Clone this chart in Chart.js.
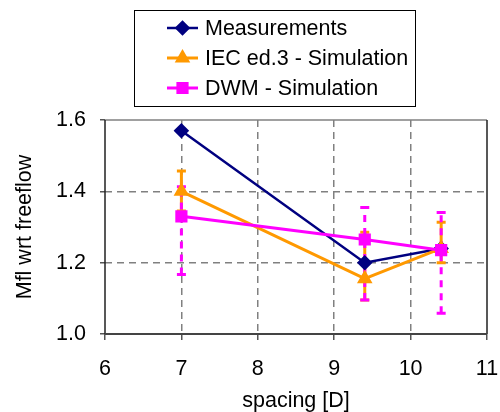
<!DOCTYPE html>
<html>
<head>
<meta charset="utf-8">
<script src="https://cdn.jsdelivr.net/npm/chart.js@4/dist/chart.umd.min.js"></script>
<style>
  body { margin: 0; background: #fff; }
</style>
</head>
<body>
<canvas id="chart" width="500" height="412"></canvas>
<script>
var spacing = [7, 9.4, 10.4];
var measured = [1.57, 1.20, 1.24];
var iec = [1.40, 1.155, 1.24];
var dwm = [1.33, 1.265, 1.235];
// error bar ends
var iecHigh = [1.457, 1.285, 1.313];
var iecLow = [1.345, 1.095, 1.20];
var dwmHigh = [1.413, 1.355, 1.341];
var dwmLow = [1.167, 1.095, 1.058];
var xTicks = [6, 7, 8, 9, 10, 11];
var yTicks = [1.0, 1.2, 1.4, 1.6];

var NAVY = '#000080';
var ORANGE = '#ff9900';
var MAGENTA = '#ff00ff';
var FONT = 'Liberation Sans, Arial, sans-serif';

function toPoints(xs, ys) {
    var pts = [];
    for (var i = 0; i < xs.length; i++) {
        pts.push({x: xs[i], y: ys[i]});
    }
    return pts;
}

// error bars, drawn under the markers
var errorBars = {
    id: 'errorBars',
    beforeDatasetsDraw: function(chart) {
        var ctx = chart.ctx;
        var xs = chart.scales.x, ys = chart.scales.y;
        var sets = [
            {lo: iecLow, hi: iecHigh, color: ORANGE, dash: []},
            {lo: dwmLow, hi: dwmHigh, color: MAGENTA, dash: [7, 6]}
        ];
        sets.forEach(function(s) {
            for (var i = 0; i < spacing.length; i++) {
                var px = xs.getPixelForValue(spacing[i]);
                var y1 = ys.getPixelForValue(s.lo[i]);
                var y2 = ys.getPixelForValue(s.hi[i]);
                ctx.save();
                ctx.strokeStyle = s.color;
                ctx.lineWidth = 3;
                ctx.setLineDash(s.dash);
                ctx.beginPath();
                ctx.moveTo(px, y1);
                ctx.lineTo(px, y2);
                ctx.stroke();
                ctx.setLineDash([]);
                ctx.beginPath();
                ctx.moveTo(px - 4.5, y1);
                ctx.lineTo(px + 4.5, y1);
                ctx.moveTo(px - 4.5, y2);
                ctx.lineTo(px + 4.5, y2);
                ctx.stroke();
                ctx.restore();
            }
        });
    }
};

// plot frame
var frame = {
    id: 'frame',
    beforeDatasetsDraw: function(chart) {
        var a = chart.chartArea, ctx = chart.ctx;
        ctx.save();
        ctx.lineWidth = 1.5;
        ctx.strokeStyle = '#808080';
        ctx.beginPath();
        ctx.moveTo(a.left, a.top);
        ctx.lineTo(a.right, a.top);
        ctx.stroke();
        ctx.strokeStyle = '#222';
        ctx.beginPath();
        ctx.moveTo(a.right, a.top);
        ctx.lineTo(a.right, a.bottom);
        ctx.moveTo(a.left, a.top);
        ctx.lineTo(a.left, a.bottom);
        ctx.stroke();
        ctx.lineWidth = 2;
        ctx.strokeStyle = '#444';
        ctx.beginPath();
        ctx.moveTo(a.left, a.bottom);
        ctx.lineTo(a.right, a.bottom);
        ctx.stroke();
        ctx.restore();
    }
};

// boxed legend like the original
var boxLegend = {
    id: 'boxLegend',
    afterDraw: function(chart) {
        var ctx = chart.ctx;
        ctx.save();
        ctx.fillStyle = '#fff';
        ctx.fillRect(134, 10, 281, 96);
        ctx.strokeStyle = '#000';
        ctx.lineWidth = 1;
        ctx.strokeRect(134.5, 10.5, 281, 96);
        var rows = [28, 58, 88];
        chart.data.datasets.forEach(function(ds, i) {
            var y = rows[i];
            ctx.strokeStyle = ds.borderColor;
            ctx.lineWidth = ds.borderWidth;
            ctx.beginPath();
            ctx.moveTo(167, y);
            ctx.lineTo(198, y);
            ctx.stroke();
            Chart.helpers.drawPoint(ctx, {
                pointStyle: ds.pointStyle,
                radius: ds.pointRadius,
                borderWidth: 1
            }, 182.5, y);
            ctx.fillStyle = ds.pointBackgroundColor;
            ctx.fill();
            ctx.fillStyle = '#000';
            ctx.font = '21.5px ' + FONT;
            ctx.textBaseline = 'middle';
            ctx.textAlign = 'left';
            ctx.fillText(ds.label, 205, y + 1);
        });
        ctx.restore();
    }
};

var gridColor = function(edges) {
    return function(c) {
        if (c.tick && edges.indexOf(c.tick.value) >= 0) return 'rgba(0,0,0,0)';
        return '#808080';
    };
};

new Chart(document.getElementById('chart'), {
    type: 'line',
    data: {
        datasets: [{
            label: 'Measurements',
            data: toPoints(spacing, measured),
            borderColor: NAVY,
            backgroundColor: NAVY,
            pointBackgroundColor: NAVY,
            pointBorderColor: NAVY,
            pointStyle: 'rectRot',
            pointRadius: 6,
            borderWidth: 2.5,
            order: 3
        }, {
            label: 'IEC ed.3 - Simulation',
            data: toPoints(spacing, iec),
            borderColor: ORANGE,
            backgroundColor: ORANGE,
            pointBackgroundColor: ORANGE,
            pointBorderColor: ORANGE,
            pointStyle: 'triangle',
            pointRadius: 6,
            borderWidth: 3,
            order: 2
        }, {
            label: 'DWM - Simulation',
            data: toPoints(spacing, dwm),
            borderColor: MAGENTA,
            backgroundColor: MAGENTA,
            pointBackgroundColor: MAGENTA,
            pointBorderColor: MAGENTA,
            pointStyle: 'rect',
            pointRadius: 6.5,
            borderWidth: 3,
            order: 1
        }]
    },
    options: {
        responsive: false,
        animation: false,
        devicePixelRatio: 1,
        layout: {padding: {left: 4, right: 13, top: 120, bottom: 0}},
        plugins: {
            legend: {display: false},
            tooltip: {enabled: false}
        },
        scales: {
            x: {
                type: 'linear',
                min: xTicks[0],
                max: xTicks[xTicks.length - 1],
                afterBuildTicks: function(s) {
                    s.ticks = xTicks.map(function(v) { return {value: v}; });
                },
                afterFit: function(s) {
                    s.height = 78;
                    s.paddingLeft = 0;
                    s.paddingRight = 0;
                },
                grid: {
                    color: gridColor([6, 11]),
                    lineWidth: 1.5,
                    tickColor: '#555',
                    tickLength: 6
                },
                border: {display: false, dash: [7, 5]},
                ticks: {
                    color: '#000',
                    padding: 16,
                    font: {family: FONT, size: 21.5}
                },
                title: {
                    display: true,
                    text: 'spacing [D]',
                    color: '#000',
                    padding: {top: 0, bottom: 0},
                    font: {family: FONT, size: 21.5, lineHeight: 1}
                }
            },
            y: {
                min: 1.0,
                max: 1.6,
                afterBuildTicks: function(s) {
                    s.ticks = yTicks.map(function(v) { return {value: v}; });
                },
                afterFit: function(s) {
                    s.width = 101;
                    s.paddingTop = 0;
                    s.paddingBottom = 0;
                },
                grid: {
                    color: gridColor([1.0, 1.6]),
                    lineWidth: 1.5,
                    tickColor: '#555',
                    tickLength: 5
                },
                border: {display: false, dash: [7, 5]},
                ticks: {
                    color: '#000',
                    padding: 14,
                    font: {family: FONT, size: 21.5},
                    callback: function(v) { return v.toFixed(1); }
                },
                title: {
                    display: true,
                    text: 'Mfl wrt freeflow',
                    color: '#000',
                    padding: {top: 8, bottom: 0},
                    font: {family: FONT, size: 21.5}
                }
            }
        }
    },
    plugins: [frame, errorBars, boxLegend]
});
</script>
</body>
</html>
